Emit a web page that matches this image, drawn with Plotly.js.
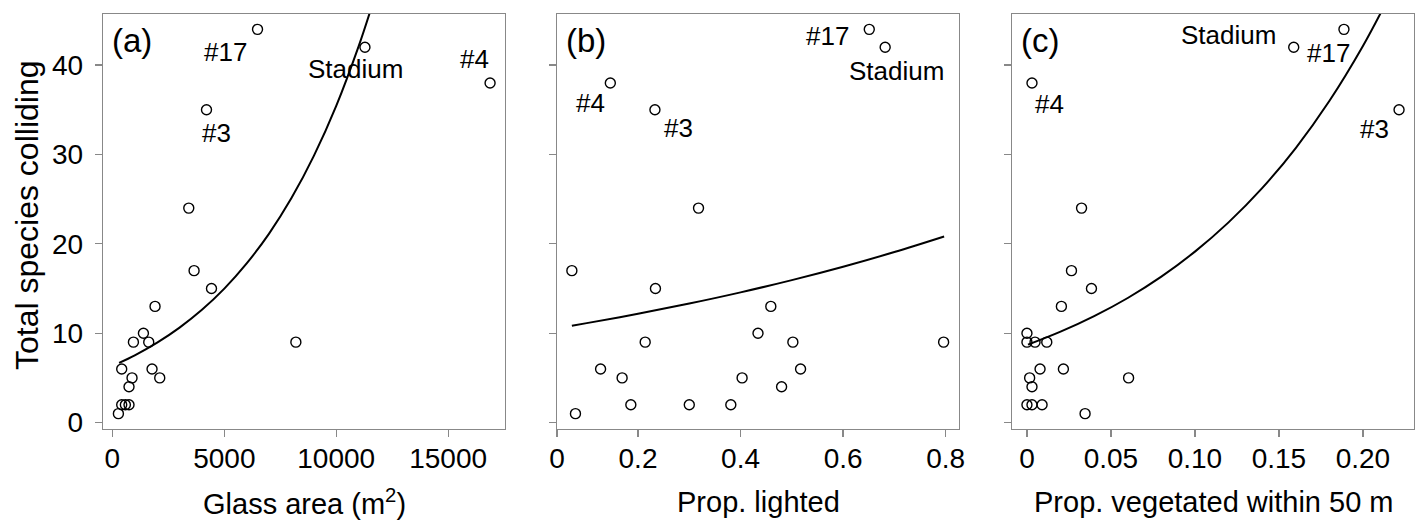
<!DOCTYPE html>
<html>
<head>
<meta charset="utf-8">
<script src="https://cdn.plot.ly/plotly-3.0.1.min.js"></script>
<style>html,body{margin:0;padding:0;background:#fff;}#chart{width:1419px;height:521px;}</style>
</head>
<body>
<div id="chart"></div>
<script>
// ---- data (sites ordered by total species colliding) ----
const speciesColliding = [44, 42, 38, 35, 24, 17, 15, 13, 10, 9, 9, 9, 6, 6, 5, 5, 4, 2, 2, 2, 1];
const siteNames = ['#17', 'Stadium', '#4', '#3'];
const glassArea = [6484, 11283, 16873, 4204, 3412, 3649, 4427, 1905, 1386, 939, 1623, 8197, 416, 1771, 877, 2115, 742, 416, 580, 742, 268];
const propLighted = [0.651, 0.682, 0.146, 0.233, 0.318, 0.071, 0.234, 0.459, 0.434, 0.214, 0.502, 0.796, 0.127, 0.517, 0.169, 0.403, 0.480, 0.186, 0.300, 0.381, 0.078];
const propVegetated = [0.1887, 0.1588, 0.003, 0.2215, 0.0325, 0.0265, 0.0384, 0.0205, 0.0, 0.0, 0.0048, 0.0118, 0.0078, 0.0217, 0.0016, 0.0605, 0.003, 0.0, 0.003, 0.009, 0.0346];

// fitted curves
const glassFitX = [300, 1000, 2000, 3000, 4000, 5000, 6000, 7000, 8000, 9000, 10000, 11000, 11500];
const glassFitY = [6.68, 7.53, 8.95, 10.63, 12.62, 14.99, 17.81, 21.15, 25.12, 29.84, 35.44, 42.10, 45.88];
const lightFitX = [0.071, 0.1, 0.2, 0.3, 0.4, 0.5, 0.6, 0.7, 0.797];
const lightFitY = [10.83, 11.13, 12.17, 13.32, 14.57, 15.94, 17.44, 19.08, 20.82];
const vegFitX = [0.0006, 0.02, 0.04, 0.06, 0.08, 0.10, 0.12, 0.14, 0.16, 0.18, 0.20, 0.215];
const vegFitY = [8.72, 10.17, 11.91, 13.94, 16.33, 19.13, 22.40, 26.23, 30.72, 35.98, 42.14, 47.45];

// tick labels
const yTickVals = [0, 10, 20, 30, 40];
const glassTickVals = [0, 5000, 10000, 15000];
const glassTickText = ['0', '5000', '10000', '15000'];
const lightTickVals = [0.042, 0.2, 0.4, 0.6, 0.8];
const lightTickText = ['0', '0.2', '0.4', '0.6', '0.8'];
const vegTickVals = [0, 0.05, 0.10, 0.15, 0.20];
const vegTickText = ['0', '0.05', '0.10', '0.15', '0.20'];

const panelLetters = ['(a)', '(b)', '(c)'];
const xTitles = ['Glass area (m<sup>2</sup>)', 'Prop. lighted', 'Prop. vegetated within 50 m'];
const yTitle = 'Total species colliding';

// ---- styling ----
const FONT = 'Liberation Sans, Arial, Helvetica, sans-serif';
const W = 1419, H = 521;
const frame = '#888888';

function pointsTrace(x, xa, ya) {
  return {
    x: x, y: speciesColliding, xaxis: xa, yaxis: ya, type: 'scatter', mode: 'markers',
    marker: {symbol: 'circle-open', size: 10, color: '#000', line: {width: 1.4, color: '#000'}},
    hoverinfo: 'x+y', showlegend: false
  };
}
function curveTrace(x, y, xa, ya) {
  return {
    x: x, y: y, xaxis: xa, yaxis: ya, type: 'scatter', mode: 'lines',
    line: {color: '#000', width: 2, shape: 'spline'}, showlegend: false, hoverinfo: 'skip'
  };
}

const traces = [
  curveTrace(glassFitX, glassFitY, 'x', 'y'),
  pointsTrace(glassArea, 'x', 'y'),
  curveTrace(lightFitX, lightFitY, 'x2', 'y2'),
  pointsTrace(propLighted, 'x2', 'y2'),
  curveTrace(vegFitX, vegFitY, 'x3', 'y3'),
  pointsTrace(propVegetated, 'x3', 'y3')
];

const yDomain = [1 - 429 / H, 1 - 14 / H];
const xDomains = [[103 / W, 505 / W], [557 / W, 959 / W], [1012 / W, 1414 / W]];

function xAxis(i, range, vals, text) {
  return {
    domain: xDomains[i], range: range, anchor: i === 0 ? 'y' : 'y' + (i + 1),
    showgrid: false, zeroline: false, showline: true, mirror: true,
    linecolor: frame, linewidth: 1.3,
    ticks: 'outside', ticklen: 7, tickwidth: 1.3, tickcolor: frame,
    tickmode: 'array', tickvals: vals, ticktext: text,
    tickfont: {family: FONT, size: 28, color: '#000'}, ticklabelstandoff: -3
  };
}
function yAxis(i, showLabels) {
  return {
    domain: yDomain, range: [-0.72, 45.72], anchor: i === 0 ? 'x' : 'x' + (i + 1),
    showgrid: false, zeroline: false, showline: true, mirror: true,
    linecolor: frame, linewidth: 1.3,
    ticks: 'outside', ticklen: 7, tickwidth: 1.3, tickcolor: frame,
    tickmode: 'array', tickvals: yTickVals, showticklabels: showLabels,
    tickfont: {family: FONT, size: 28, color: '#000'}, ticklabelstandoff: 6
  };
}

// label offsets (pixels) for the named sites, per panel
const labelShifts = [
  [[-32, -23], [-9, -22], [-16, 24], [10, -23]],
  [[-42, -7], [11, -24], [-20, -20], [24, -18]],
  [[-15, -24], [-65, 12], [18, -21], [-25, -19]]
];
const panelX = [glassArea, propLighted, propVegetated];
const annotations = [];
for (let p = 0; p < 3; p++) {
  const xr = p === 0 ? 'x' : 'x' + (p + 1);
  const yr = p === 0 ? 'y' : 'y' + (p + 1);
  for (let k = 0; k < siteNames.length; k++) {
    annotations.push({
      x: panelX[p][k], y: speciesColliding[k], xref: xr, yref: yr,
      text: siteNames[k], showarrow: false, xanchor: 'center', yanchor: 'middle',
      xshift: labelShifts[p][k][0], yshift: labelShifts[p][k][1],
      font: {family: FONT, size: 26, color: '#000'}
    });
  }
  annotations.push({
    x: (xDomains[p][0] * W + 7) / W, y: 1 - 41 / H, xref: 'paper', yref: 'paper',
    text: panelLetters[p], showarrow: false, xanchor: 'left', yanchor: 'middle',
    font: {family: FONT, size: 33, color: '#000'}
  });
  annotations.push({
    x: (xDomains[p][0] + xDomains[p][1]) / 2, y: 1 - 502 / H, xref: 'paper', yref: 'paper',
    text: xTitles[p], showarrow: false, xanchor: 'center', yanchor: 'middle',
    font: {family: FONT, size: 29, color: '#000'}
  });
}
annotations.push({
  x: 27 / W, y: 1 - 215 / H, xref: 'paper', yref: 'paper', text: yTitle, textangle: -90,
  showarrow: false, xanchor: 'center', yanchor: 'middle',
  font: {family: FONT, size: 32, color: '#000'}
});

const layout = {
  width: W, height: H, margin: {l: 0, r: 0, t: 0, b: 0},
  paper_bgcolor: '#fff', plot_bgcolor: '#fff', showlegend: false,
  font: {family: FONT, color: '#000'},
  xaxis: xAxis(0, [-420, 17540], glassTickVals, glassTickText),
  xaxis2: xAxis(1, [0.042, 0.826], lightTickVals, lightTickText),
  xaxis3: xAxis(2, [-0.0089, 0.2304], vegTickVals, vegTickText),
  yaxis: yAxis(0, true),
  yaxis2: yAxis(1, false),
  yaxis3: yAxis(2, false),
  annotations: annotations
};

Plotly.newPlot('chart', traces, layout, {displayModeBar: false, staticPlot: true});
</script>
</body>
</html>
